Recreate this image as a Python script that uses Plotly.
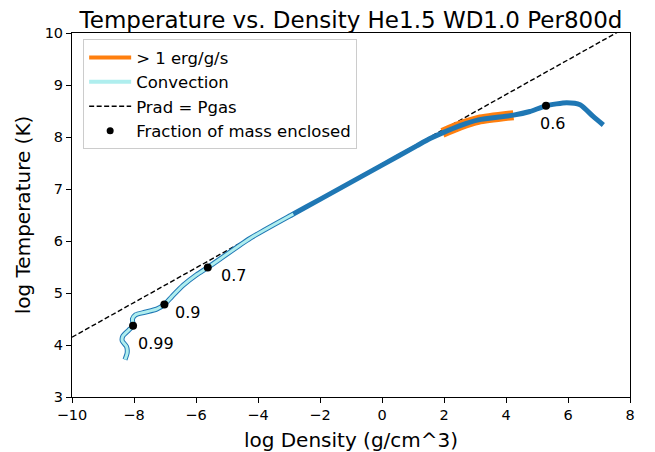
import plotly.graph_objects as go

# ---- data ----
log_rho = [-8.29, -8.22, -8.24, -8.38, -8.36, -8.18, -8.03, -8.05, -7.95, -7.65,
           -7.27, -7.02, -6.78, -6.41, -5.98, -5.62, -4.26, -2.86, -2.0, 0.0,
           1.12, 1.55, 1.95, 2.52, 3.11, 4.24, 4.77, 5.29, 5.96, 6.39, 6.82, 7.14]
log_T = [3.72, 3.85, 3.97, 4.08, 4.17, 4.28, 4.37, 4.50, 4.58, 4.63,
         4.69, 4.78, 4.93, 5.15, 5.35, 5.49, 6.05, 6.52, 6.80, 7.46,
         7.83, 7.97, 8.08, 8.22, 8.33, 8.42, 8.49, 8.60, 8.66, 8.62, 8.39, 8.23]

conv_rho_max = -2.86          # convection zone: log rho below this
burn_rho_min = 1.95           # > 1 erg/g/s zone
burn_rho_max = 4.24

prad_rho = [-10, 8]
prad_T = [4.15, 10.15]

frac_rho = [-8.03, -7.02, -5.62, 5.29]
frac_T = [4.37, 4.78, 5.49, 8.60]
frac_labels = ["0.99", "0.9", "0.7", "0.6"]
label_shift = [(3, -18), (9, -8), (11, -8), (-8, -18)]   # pixel offsets of labels

title = "Temperature vs. Density He1.5 WD1.0 Per800d"
xlabel = "log Density (g/cm^3)"
ylabel = "log Temperature (K)"

# ---- derived subsets ----
conv = [(r, t) for r, t in zip(log_rho, log_T) if r <= conv_rho_max]
burn = [(r, t) for r, t in zip(log_rho, log_T) if burn_rho_min <= r <= burn_rho_max]

BLUE = "#1f77b4"
ORANGE = "#ff7f0e"
CYAN = "#afeeee"
FONT = "DejaVu Sans"

fig = go.Figure()

# Prad = Pgas line
fig.add_trace(go.Scatter(x=prad_rho, y=prad_T, mode="lines",
                         line=dict(color="black", width=1.4, dash="5px,2.5px"),
                         showlegend=False, hoverinfo="skip"))
# burning highlight
fig.add_trace(go.Scatter(x=[p[0] for p in burn], y=[p[1] for p in burn], mode="lines",
                         line=dict(color=ORANGE, width=10, shape="spline", smoothing=0.6),
                         showlegend=False, hoverinfo="skip"))
# main profile
fig.add_trace(go.Scatter(x=log_rho, y=log_T, mode="lines",
                         line=dict(color=BLUE, width=5, shape="spline", smoothing=0.6),
                         showlegend=False, hoverinfo="skip"))
# convection
fig.add_trace(go.Scatter(x=[p[0] for p in conv], y=[p[1] for p in conv], mode="lines",
                         line=dict(color=CYAN, width=3, shape="spline", smoothing=0.6),
                         showlegend=False, hoverinfo="skip"))
# mass fraction points
fig.add_trace(go.Scatter(x=frac_rho, y=frac_T, mode="markers",
                         marker=dict(color="black", size=8),
                         showlegend=False, hoverinfo="skip"))

# legend-only entries
legend_items = [
    ("> 1 erg/g/s", dict(mode="lines", line=dict(color=ORANGE, width=4))),
    ("Convection", dict(mode="lines", line=dict(color=CYAN, width=4))),
    ("Prad = Pgas", dict(mode="lines", line=dict(color="black", width=1.4, dash="5px,2.5px"))),
    ("Fraction of mass enclosed", dict(mode="markers", marker=dict(color="black", size=7))),
]
for i, (name, kw) in enumerate(legend_items):
    fig.add_trace(go.Scatter(x=[None], y=[None], name=name, legendgroup=f"g{i}", **kw))

for r, t, lab, (dx, dy) in zip(frac_rho, frac_T, frac_labels, label_shift):
    fig.add_annotation(x=r, y=t, text=lab, showarrow=False, xanchor="left",
                       yanchor="middle", xshift=dx, yshift=dy,
                       font=dict(family=FONT, size=16, color="black"))

axis_common = dict(showgrid=False, zeroline=False, showline=True, linecolor="black",
                   linewidth=1, mirror=True, ticks="outside", ticklen=5, tickwidth=1,
                   tickcolor="black", automargin=False,
                   tickfont=dict(family=FONT, size=14.5, color="black"))

fig.update_xaxes(range=[-10, 8], dtick=2, tick0=0,
                 title=dict(text=xlabel, font=dict(family=FONT, size=20, color="black"), standoff=10),
                 **axis_common)
fig.update_yaxes(range=[3, 10], dtick=1, tick0=0,
                 title=dict(text=ylabel, font=dict(family=FONT, size=20, color="black"), standoff=8),
                 **axis_common)

fig.update_layout(
    width=655, height=452,
    margin=dict(l=72, r=25, t=33, b=55, autoexpand=False),
    paper_bgcolor="white", plot_bgcolor="white",
    font=dict(family=FONT, color="black"),
    title=dict(text=title, x=0.5, xref="paper", xanchor="center",
               y=1, yref="paper", yanchor="bottom", pad=dict(b=5),
               font=dict(family=FONT, size=23, color="black")),
    showlegend=True,
    legend=dict(x=0.02, y=0.983, xanchor="left", yanchor="top",
                bgcolor="rgba(255,255,255,0.8)", bordercolor="#cccccc", borderwidth=1,
                font=dict(family=FONT, size=16.5, color="black"),
                itemwidth=42,
                traceorder="grouped", tracegroupgap=0),
)

fig.write_html("out.html", config={"displayModeBar": False},
               post_script="document.body.style.margin='0px';")
